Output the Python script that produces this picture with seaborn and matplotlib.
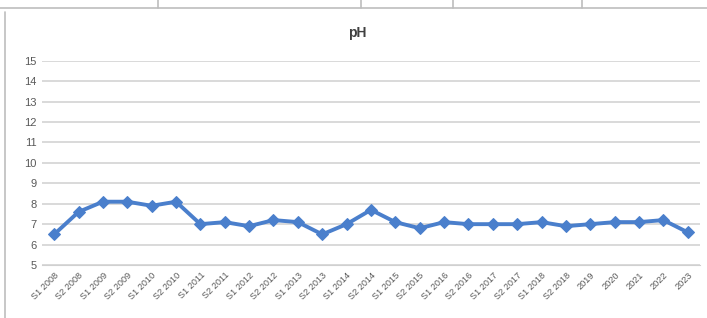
import pandas as pd
import matplotlib.pyplot as plt
import seaborn as sns
from matplotlib.lines import Line2D

# Data
periods = ['S1 2008', 'S2 2008', 'S1 2009', 'S2 2009', 'S1 2010', 'S2 2010',
           'S1 2011', 'S2 2011', 'S1 2012', 'S2 2012', 'S1 2013', 'S2 2013',
           'S1 2014', 'S2 2014', 'S1 2015', 'S2 2015', 'S1 2016', 'S2 2016',
           'S1 2017', 'S2 2017', 'S1 2018', 'S2 2018', '2019', '2020',
           '2021', '2022', '2023']
phValues = [6.5, 7.6, 8.1, 8.1, 7.9, 8.1, 7.0, 7.1, 6.9, 7.2, 7.1, 6.5,
            7.0, 7.7, 7.1, 6.8, 7.1, 7.0, 7.0, 7.0, 7.1, 6.9, 7.0, 7.1,
            7.1, 7.2, 6.6]
yTicks = list(range(5, 16))

df = pd.DataFrame({'period': periods, 'ph': phValues})

sns.set_style("white")
plt.rcParams['font.family'] = ['Liberation Sans', 'DejaVu Sans']

fig = plt.figure(figsize=(7.07, 3.18), dpi=100)
ax = fig.add_axes([0.0594, 0.1667, 0.9306, 0.642])

sns.lineplot(data=df, x='period', y='ph', ax=ax, sort=False,
             color='#4A7FCC', linewidth=2.8, marker='D', markersize=6.5,
             markeredgecolor='#4A7FCC')

ax.set_xlim(-0.5, len(periods) - 0.5)
ax.set_ylim(5, 15)
ax.set_yticks(yTicks)
ax.set_yticklabels([str(t) for t in yTicks], fontsize=8, color='#595959')
ax.set_xticks(range(len(periods)))
ax.set_xticklabels(periods, rotation=45, ha='right', rotation_mode='anchor',
                   fontsize=6.6, color='#595959')
ax.tick_params(axis='both', length=0, pad=4)
ax.set_xlabel('')
ax.set_ylabel('')
ax.grid(True, axis='y', color='#D0D0D0', linewidth=1.1)
ax.set_axisbelow(True)
for side in ['top', 'right', 'left']:
    ax.spines[side].set_visible(False)
ax.spines['bottom'].set_color('#D0D0D0')

fig.text(0.505, 0.896, 'pH', ha='center', va='center', fontsize=10,
         fontweight='bold', color='#404040')

# chart frame and table fragment above it
W, H = 707, 318
def px(x, y):
    return x / W, 1 - y / H

for (x0, y0), (x1, y1) in [((0, 8), (707, 8)), ((5, 12), (5, 318)),
                           ((158, 0), (158, 8)), ((361, 0), (361, 8)),
                           ((453, 0), (453, 8)), ((582, 0), (582, 8))]:
    a, b = px(x0, y0)
    c, d = px(x1, y1)
    fig.add_artist(Line2D([a, c], [b, d], transform=fig.transFigure,
                          color='#BDBDBD', linewidth=1.2))

fig.savefig('out.png', dpi=100)
